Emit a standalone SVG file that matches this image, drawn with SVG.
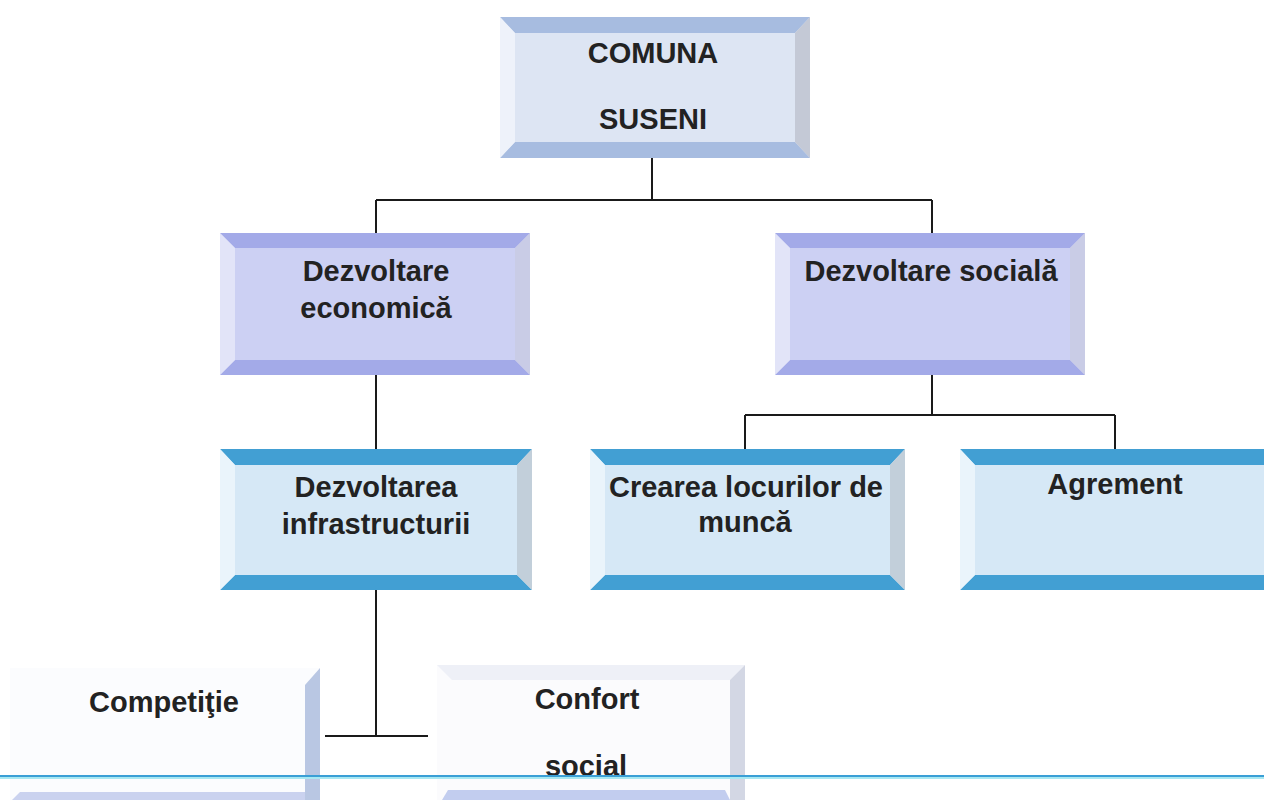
<svg xmlns="http://www.w3.org/2000/svg" width="1264" height="800" viewBox="0 0 1264 800">
<style>
text{font-family:"Liberation Sans",Arial,sans-serif;font-weight:bold;font-size:29px;fill:#222;text-anchor:middle}
.conn{stroke:#1a1a1a;stroke-width:2;fill:none}
.a .f{fill:#dde5f3}.a .tb{fill:#a7bce0}.a .l{fill:#eef2fa}.a .r{fill:#c4c9d6}
.b .f{fill:#ccd0f3}.b .tb{fill:#a3aae8}.b .l{fill:#e2e4f8}.b .r{fill:#c9cce6}
.c .f{fill:#d6e8f6}.c .tb{fill:#429fd3}.c .l{fill:#eaf4fb}.c .r{fill:#c2cfda}
</style>
<rect width="1264" height="800" fill="#ffffff"/>
<g id="connectors">
<path class="conn" d="M652 158V200M376 200H932M376 200V233M932 200V233"/>
<path class="conn" d="M376 375V449"/>
<path class="conn" d="M932 375V415M745 415H1115M745 415V449M1115 415V449"/>
<path class="conn" d="M376 590V736M325 736H428"/>
</g>
<g id="n-comuna" class="a">
<rect class="f" x="500" y="17" width="310" height="141"/>
<polygon class="tb" points="500,17 810,17 795,33 515,33"/>
<polygon class="tb" points="500,158 810,158 795,142 515,142"/>
<polygon class="l" points="500,17 515,33 515,142 500,158"/>
<polygon class="r" points="810,17 795,33 795,142 810,158"/>
<text x="653" y="63">COMUNA</text>
<text x="653" y="129">SUSENI</text>
</g>
<g id="n-econ" class="b">
<rect class="f" x="220" y="233" width="310" height="142"/>
<polygon class="tb" points="220,233 530,233 515,248 235,248"/>
<polygon class="tb" points="220,375 530,375 515,360 235,360"/>
<polygon class="l" points="220,233 235,248 235,360 220,375"/>
<polygon class="r" points="530,233 515,248 515,360 530,375"/>
<text x="376" y="281">Dezvoltare</text>
<text x="376" y="318">economică</text>
</g>
<g id="n-soc" class="b">
<rect class="f" x="775" y="233" width="310" height="142"/>
<polygon class="tb" points="775,233 1085,233 1070,248 790,248"/>
<polygon class="tb" points="775,375 1085,375 1070,360 790,360"/>
<polygon class="l" points="775,233 790,248 790,360 775,375"/>
<polygon class="r" points="1085,233 1070,248 1070,360 1085,375"/>
<text x="931" y="281">Dezvoltare socială</text>
</g>
<g id="n-infra" class="c">
<rect class="f" x="220" y="449" width="312" height="141"/>
<polygon class="tb" points="220,449 532,449 517,465 235,465"/>
<polygon class="tb" points="220,590 532,590 517,575 235,575"/>
<polygon class="l" points="220,449 235,465 235,575 220,590"/>
<polygon class="r" points="532,449 517,465 517,575 532,590"/>
<text x="376" y="497">Dezvoltarea</text>
<text x="376" y="534">infrastructurii</text>
</g>
<g id="n-munca" class="c">
<rect class="f" x="590" y="449" width="315" height="141"/>
<polygon class="tb" points="590,449 905,449 890,465 605,465"/>
<polygon class="tb" points="590,590 905,590 890,575 605,575"/>
<polygon class="l" points="590,449 605,465 605,575 590,590"/>
<polygon class="r" points="905,449 890,465 890,575 905,590"/>
<text x="746" y="497">Crearea locurilor de</text>
<text x="745" y="532">muncă</text>
</g>
<g id="n-agrement" class="c">
<rect class="f" x="960" y="449" width="320" height="141"/>
<polygon class="tb" points="960,449 1280,449 1265,465 975,465"/>
<polygon class="tb" points="960,590 1280,590 1265,575 975,575"/>
<polygon class="l" points="960,449 975,465 975,575 960,590"/>
<text x="1115" y="494">Agrement</text>
</g>
<g id="n-competitie">
<rect x="10" y="668" width="310" height="140" fill="#fbfcfe"/>
<polygon points="320,668 305,685 305,800 320,800" fill="#b9c7e3"/>
<polygon points="12,800 305,800 305,792 20,792" fill="#cad2ef"/>
<text x="164" y="712">Competiţie</text>
</g>
<g id="n-confort">
<rect x="437" y="665" width="308" height="140" fill="#fbfbfd"/>
<polygon points="437,665 745,665 730,680 452,680" fill="#eef0f7"/>
<polygon points="745,665 730,680 730,800 745,800" fill="#d3d7e4"/>
<polygon points="442,800 730,800 725,790 448,790" fill="#c2cdef"/>
<text x="587" y="709">Confort</text>
<text x="586" y="776">social</text>
</g>
<rect x="0" y="775" width="1264" height="2" fill="#3a9fd6"/>
<rect x="0" y="777" width="1264" height="2" fill="#a8e8f2"/>
</svg>
